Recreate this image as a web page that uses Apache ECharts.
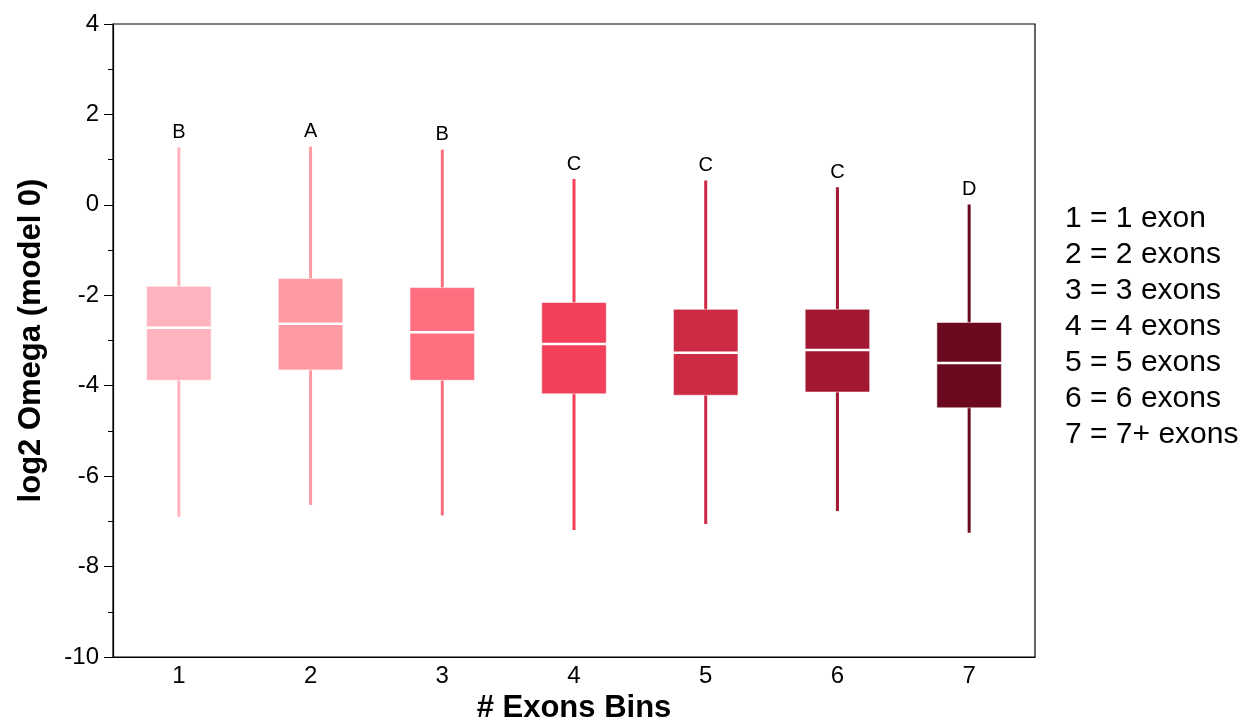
<!DOCTYPE html>
<html><head><meta charset="utf-8">
<script src="https://cdn.jsdelivr.net/npm/echarts@6/dist/echarts.min.js"></script>
<style>html,body{margin:0;padding:0;background:#fff}#c{width:1257px;height:724px}</style>
</head><body><div id="c"></div>
<script>
var categories = ['1','2','3','4','5','6','7'];
// [min, Q1, median, Q3, max]
var mins    = [-6.90, -6.64, -6.87, -7.19, -7.06, -6.77, -7.25];
var q1s     = [-3.88, -3.65, -3.88, -4.18, -4.21, -4.14, -4.49];
var medians = [-2.72, -2.63, -2.82, -3.08, -3.27, -3.21, -3.50];
var q3s     = [-1.80, -1.63, -1.83, -2.16, -2.31, -2.31, -2.60];
var maxs    = [1.27, 1.29, 1.22, 0.57, 0.54, 0.39, 0.01];
var letters = ['B','A','B','C','C','C','D'];
var colors  = ['#FFB3BE','#FF9AA3','#FF6F80','#F24058','#CD2B45','#A21832','#6B0A1E'];
var legendLabels = ['1 = 1 exon','2 = 2 exons','3 = 3 exons','4 = 4 exons','5 = 5 exons','6 = 6 exons','7 = 7+ exons'];
var yTicks = {min: -10, max: 4, interval: 2};

var data = categories.map(function(c, i){ return [i, mins[i], q1s[i], medians[i], q3s[i], maxs[i]]; });
var chart = echarts.init(document.getElementById('c'));
var FONT = 'Liberation Sans, Arial, sans-serif';
var graphics = legendLabels.map(function(t, i){
  return {type:'text', x:1065, y: 219 + i*36, style:{text:t, font:'30px ' + FONT, fill:'#000', verticalAlign:'middle'}};
});
chart.setOption({
  animation:false,
  grid:{left:113, right:222, top:24, bottom:67, show:true, borderColor:'#000', borderWidth:1.2,
    containLabel:false, outerBoundsMode:'none'},
  xAxis:{type:'category', data:categories, boundaryGap:true,
    axisLine:{onZero:false, lineStyle:{color:'#000', width:1.2}}, axisTick:{show:false},
    axisLabel:{color:'#000', fontSize:24, fontFamily:FONT, margin:7},
    name:'# Exons Bins', nameLocation:'middle', nameGap:35,
    nameTextStyle:{color:'#000', fontSize:31, fontWeight:'bold', fontFamily:FONT}},
  yAxis:{type:'value', min:yTicks.min, max:yTicks.max, interval:yTicks.interval,
    axisLine:{show:true, onZero:false, lineStyle:{color:'#000', width:1.2}},
    axisTick:{show:true, length:9, lineStyle:{color:'#000'}},
    minorTick:{show:true, splitNumber:2, length:5, lineStyle:{color:'#000'}},
    splitLine:{show:false},
    axisLabel:{color:'#000', fontSize:24, fontFamily:FONT, margin:14},
    name:'log2 Omega (model 0)', nameLocation:'middle', nameGap:66,
    nameTextStyle:{color:'#000', fontSize:31, fontWeight:'bold', fontFamily:FONT}},
  graphic: graphics,
  series:[{
    type:'custom', data:data,
    renderItem:function(params, api){
      var i = api.value(0);
      var pMin = api.coord([i, api.value(1)]);
      var pQ1 = api.coord([i, api.value(2)]);
      var pMed = api.coord([i, api.value(3)]);
      var pQ3 = api.coord([i, api.value(4)]);
      var pMax = api.coord([i, api.value(5)]);
      var w = api.size([1, 0])[0] * 0.49;
      var x = pMed[0];
      var col = colors[i];
      return {type:'group', children:[
        {type:'line', shape:{x1:x, y1:pMin[1], x2:x, y2:pMax[1]}, style:{stroke:col, lineWidth:3}},
        {type:'rect', shape:{x:x-w/2, y:pQ3[1], width:w, height:pQ1[1]-pQ3[1]},
          style:{fill:col, stroke:'rgba(255,255,255,0.55)', lineWidth:1}},
        {type:'line', shape:{x1:x-w/2, y1:pMed[1], x2:x+w/2, y2:pMed[1]}, style:{stroke:'#fff', lineWidth:2.5}},
        {type:'text', x:x, y:pMax[1]-5, style:{text:letters[i], font:'20px ' + FONT, fill:'#000', align:'center', verticalAlign:'bottom'}}
      ]};
    }
  }]
});
</script></body></html>
